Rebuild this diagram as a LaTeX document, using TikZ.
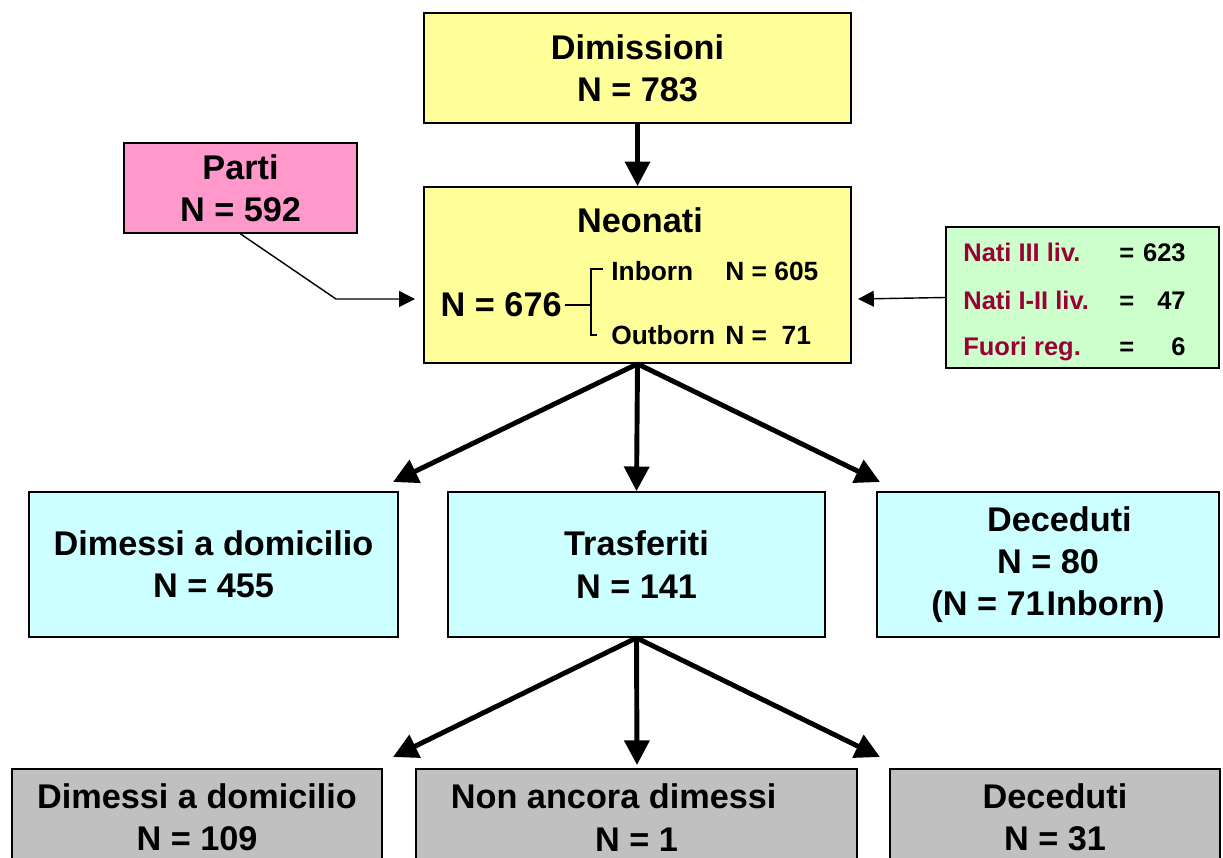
\documentclass[tikz,border=0pt]{standalone}
\usepackage{fontspec}
\setmainfont{Liberation Sans}
\usetikzlibrary{arrows.meta}
\definecolor{yelbox}{HTML}{FFFF99}
\definecolor{pinkbox}{HTML}{FF99CC}
\definecolor{grnbox}{HTML}{CCFFCC}
\definecolor{cynbox}{HTML}{CCFFFF}
\definecolor{grybox}{HTML}{C0C0C0}
\definecolor{dredtxt}{HTML}{990033}
\begin{document}
\begin{tikzpicture}[x=0.02cm,y=-0.02cm,
  box/.style 2 args={draw=black, line width=1pt, inner sep=0pt, align=center,
    minimum width=#1*0.02cm, minimum height=#2*0.02cm,
    font=\bfseries\fontsize{19.5}{24}\selectfont},
  bigtxt/.style={inner sep=0pt, font=\bfseries\fontsize{19.5}{24}\selectfont},
  midtxt/.style={inner sep=0pt, font=\bfseries\fontsize{15}{18}\selectfont},
  gtxt/.style={inner sep=0pt, font=\bfseries\fontsize{14.5}{17}\selectfont},
  bigarrow/.style={line width=2.8pt, -{Triangle[length=14pt,width=14pt]}},
  thinarrow/.style={line width=0.8pt, -{Triangle[length=9pt,width=9pt]}},
  ]
\useasboundingbox (0,0) rectangle (1223,858);
\clip (0,0) rectangle (1223,858);

% boxes
\node[box={427}{110}, fill=yelbox] (dim) at (637.5,68) {Dimissioni\\N = 783};
\node[box={233}{90}, fill=pinkbox] (parti) at (240.5,188) {Parti\\N = 592};
\node[box={427}{176}, fill=yelbox] (neo) at (637.5,275) {};
\node[box={273}{141}, fill=grnbox] (grn) at (1082.5,297.5) {};

\node[box={369}{145}, fill=cynbox] (dom) at (213.5,564.5) {Dimessi a domicilio\\N = 455};
\node[box={377}{145}, fill=cynbox] (tras) at (636.5,564.5) {Trasferiti\\N = 141};
\node[box={342}{145}, fill=cynbox] (dec) at (1048,564.5) {\hspace*{13pt}Deceduti\\N = 80\\(N = 71\kern1pt Inborn)};

\node[box={370}{97}, fill=grybox] (dom2) at (197,817.5) {Dimessi a domicilio\\N = 109};
\node[box={441}{97}, fill=grybox] (nad) at (636.5,817.5) {Non ancora dimessi\hspace*{26pt}\\N = 1};
\node[box={330}{97}, fill=grybox] (dec2) at (1055,817.5) {Deceduti\\N = 31};

% Neonati content
\node[bigtxt] (neot) at (640,220) {Neonati};
\node[bigtxt, anchor=east] (n676) at (562,305) {N = 676};
\node[midtxt, anchor=west] (inb) at (611,271) {Inborn};
\node[midtxt, anchor=west] (inbn) at (725,271) {N = 605};
\node[midtxt, anchor=west] (outb) at (611,335) {Outborn};
\node[midtxt, anchor=west] (outbn) at (725,335) {N =\ \ 71};
\coordinate (brk) at (591,305);
\draw[line width=0.8pt] (n676.east) ++(3,0) -- (brk);
\draw[line width=0.8pt] (inb.west) ++(-8,-2) -| (brk) |- ([xshift=-8]outb.west);

% green content
\node[gtxt, text=dredtxt, anchor=base west] (g1) at (963,261) {Nati III liv.};
\node[gtxt, text=dredtxt, anchor=base west] (g2) at (963,309) {Nati I-II liv.};
\node[gtxt, text=dredtxt, anchor=base west] (g3) at (963,355) {Fuori reg.};
\node[gtxt, anchor=base west] (g1e) at (1119,261) {=};
\node[gtxt, anchor=base west] (g2e) at (1119,309) {=};
\node[gtxt, anchor=base west] (g3e) at (1119,355) {=};
\node[gtxt, anchor=base east] (g1n) at (1186,261) {623};
\node[gtxt, anchor=base east] (g2n) at (1186,309) {47};
\node[gtxt, anchor=base east] (g3n) at (1186,355) {6};

% connectors
\draw[bigarrow] (dim.south) -- (neo.north);
\coordinate (pbend) at (336,299);
\coordinate (ptip) at (415,299);
\draw[thinarrow] (parti.south) -- (pbend) -- (ptip);
\coordinate (gtip) at (858,299);
\draw[thinarrow] (grn.west) -- (gtip);

\coordinate (t1) at (393,482);
\coordinate (t3) at (880,482);
\draw[bigarrow] (neo.south) -- (t1);
\draw[bigarrow] (neo.south) -- (tras.north);
\draw[bigarrow] (neo.south) -- (t3);

\coordinate (u1) at (393,757);
\coordinate (u2) at (637,765);
\coordinate (u3) at (880,757);
\draw[bigarrow] (tras.south) -- (u1);
\draw[bigarrow] (tras.south) -- (u2);
\draw[bigarrow] (tras.south) -- (u3);
\end{tikzpicture}
\end{document}
